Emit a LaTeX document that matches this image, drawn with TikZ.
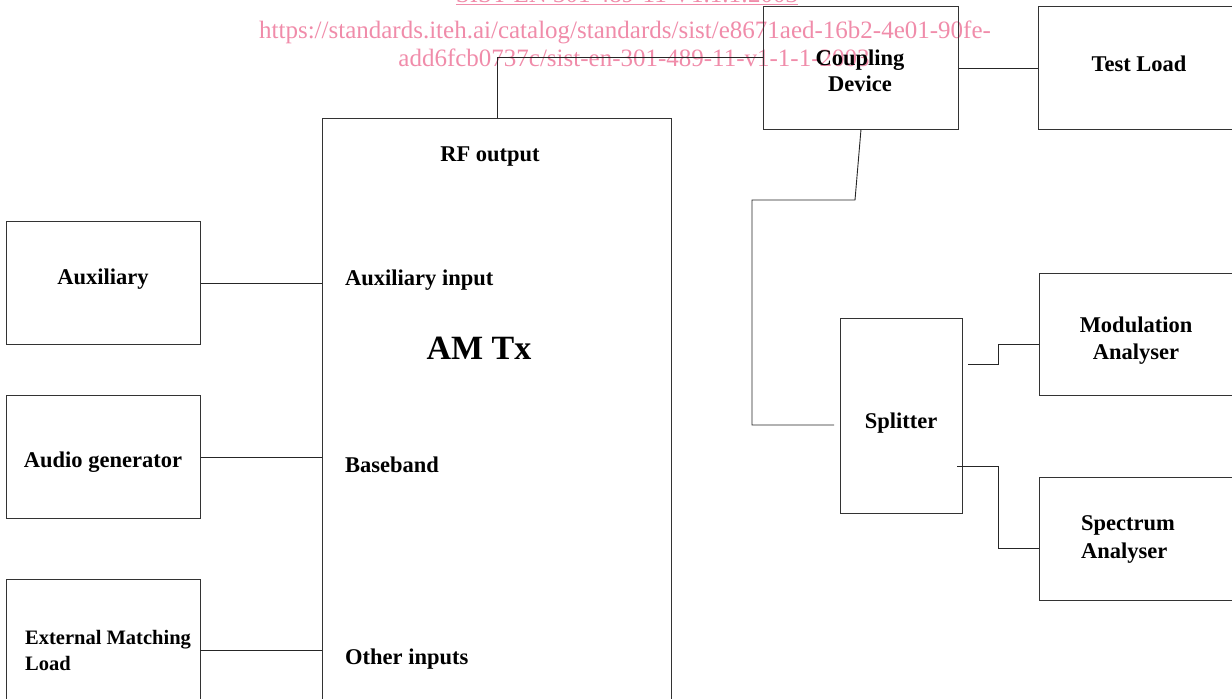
\documentclass[tikz,border=0pt]{standalone}
\usepackage{fontspec}
\setmainfont{Liberation Serif}
\definecolor{wm}{RGB}{240,140,170}
\begin{document}
\begin{tikzpicture}[x=1pt,y=-1pt,
  box/.style={draw=black!80, line width=0.9pt, inner sep=0pt, anchor=north west},
  lbl/.style={font=\fontsize{22.5}{26.5}\selectfont\bfseries, inner sep=0pt, align=center},
  big/.style={font=\fontsize{34}{38}\selectfont\bfseries, inner sep=0pt},
  wire/.style={draw=black!85, line width=0.9pt},
  wmtext/.style={text=wm, font=\fontsize{25}{28}\selectfont, inner sep=0pt}]
\useasboundingbox (0,0) rectangle (1232,699);
\clip (0,0) rectangle (1232,699);

% watermark
\node[wmtext, anchor=base] (wm1) at (627,2) {\underline{SIST EN 301 489-11 V1.1.1:2003}};
\node[wmtext, anchor=base] (wm2) at (625,38) {https://standards.iteh.ai/catalog/standards/sist/e8671aed-16b2-4e01-90fe-};
\node[wmtext, anchor=base] (wm3) at (634,66) {add6fcb0737c/sist-en-301-489-11-v1-1-1-2003};

% boxes
\node[box, minimum width=349pt, minimum height=600pt] (am) at (322,118) {};
\node[box, minimum width=194pt, minimum height=123pt] (aux) at (6,221) {};
\node[box, minimum width=194pt, minimum height=123pt] (aud) at (6,395) {};
\node[box, minimum width=194pt, minimum height=130pt] (ext) at (6,579) {};
\node[box, minimum width=195pt, minimum height=123pt] (coup) at (763,6) {};
\node[box, minimum width=200pt, minimum height=123pt] (test) at (1038,6) {};
\node[box, minimum width=200pt, minimum height=122pt] (mod) at (1039,273) {};
\node[box, minimum width=200pt, minimum height=123pt] (spec) at (1039,477) {};
\node[box, minimum width=122pt, minimum height=195pt] (split) at (840,318) {};

% labels
\node[lbl] (trf) at (490,157) {RF output};
\node[lbl, anchor=west] (tauxin) at (345,280) {Auxiliary input};
\node[big] (tam) at (479,348) {AM Tx};
\node[lbl, anchor=west] (tbase) at (345,465) {Baseband};
\node[lbl, anchor=west] (tother) at (345,659) {Other inputs};
\node[lbl] (taux) at (103,279) {Auxiliary};
\node[lbl] (taud) at (103,462) {Audio generator};
\node[lbl, anchor=west, align=left, font=\fontsize{20.5}{26}\selectfont\bfseries] (text) at (25,650) {External Matching\\Load};
\node[lbl] (tcoup) at (860,71) {Coupling\\Device};
\node[lbl] (ttest) at (1139,64) {Test Load};
\node[lbl, font=\fontsize{22.5}{27.5}\selectfont\bfseries] (tmod) at (1136,340.5) {Modulation\\Analyser};
\node[lbl, anchor=west, align=left, font=\fontsize{22.5}{27.5}\selectfont\bfseries] (tspec) at (1081,539.5) {Spectrum\\Analyser};
\node[lbl] (tsplit) at (901,423) {Splitter};

% connector points
\coordinate (cin) at (763,57);
\coordinate (c1) at (855,200);
\coordinate (c2) at (752,425);
\coordinate (sin) at (834,425);
\coordinate (m0) at (968,364);
\coordinate (m1) at (998,344);
\coordinate (s0) at (957,466);
\coordinate (s1) at (998,548);
\coordinate (e0) at (200,650);

% connectors
\draw[wire] (am.north) |- (cin);
\draw[wire] (coup.east) -- (coup.east -| test.west);
\draw[wire] (coup.south) -- (c1) -| (c2) -- (sin);
\draw[wire] (m0) -| (m1) -- (m1 -| mod.west);
\draw[wire] (s0) -| (s1) -- (s1 -| spec.west);
\draw[wire] (aux.east) -- (aux.east -| am.west);
\draw[wire] (aud.east) -- (aud.east -| am.west);
\draw[wire] (e0) -- (e0 -| am.west);
\end{tikzpicture}
\end{document}
